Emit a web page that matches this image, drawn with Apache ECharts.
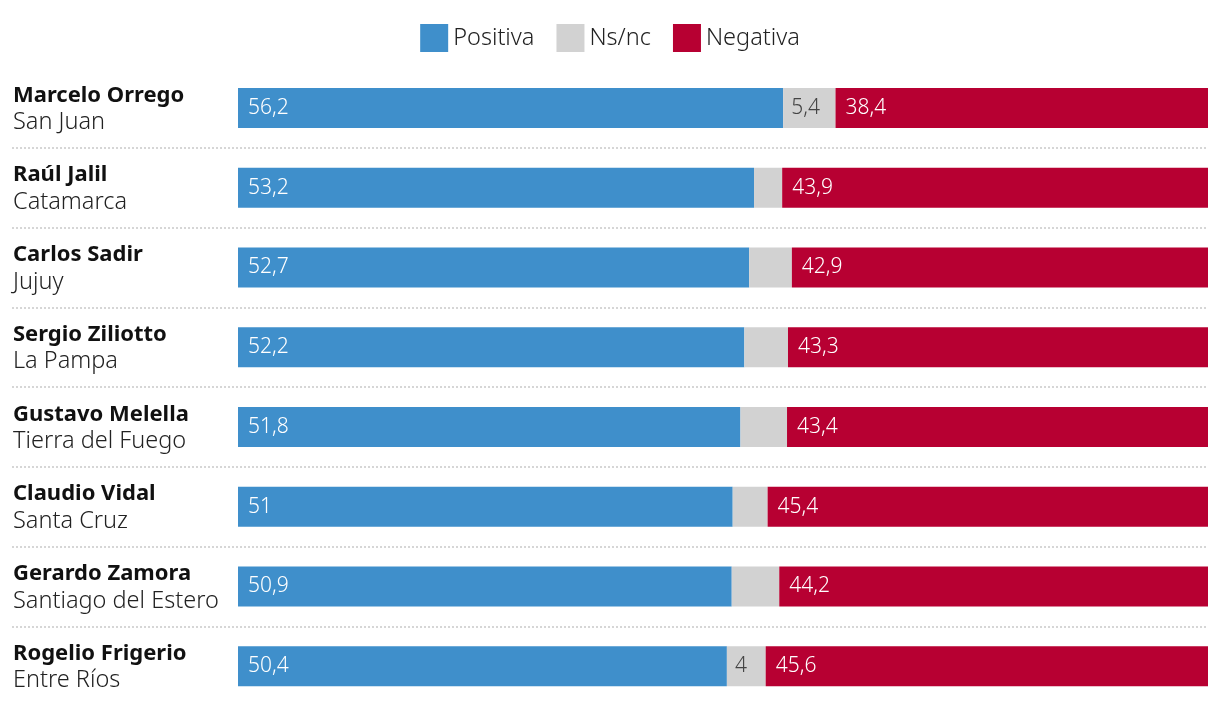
<!DOCTYPE html>
<html>
<head>
<meta charset="utf-8">
<script src="https://cdn.jsdelivr.net/npm/echarts@6/dist/echarts.min.js"></script>
<style>
html,body{margin:0;padding:0;background:#fff;}
#chart{width:1220px;height:714px;}
</style>
</head>
<body>
<div id="chart"></div>
<script>
const names = ['Marcelo Orrego','Raúl Jalil','Carlos Sadir','Sergio Ziliotto','Gustavo Melella','Claudio Vidal','Gerardo Zamora','Rogelio Frigerio'];
const provinces = ['San Juan','Catamarca','Jujuy','La Pampa','Tierra del Fuego','Santa Cruz','Santiago del Estero','Entre Ríos'];
const positiva = [56.2, 53.2, 52.7, 52.2, 51.8, 51, 50.9, 50.4];
const nsnc = [5.4, 2.9, 4.4, 4.5, 4.8, 3.6, 4.9, 4];
const negativa = [38.4, 43.9, 42.9, 43.3, 43.4, 45.4, 44.2, 45.6];
const nsLabelRows = [0, 7];

const categories = names.map((n, i) => n + '|' + provinces[i]);
const fmt = v => String(v).replace('.', ',');
const FONT = '"Noto Sans", Roboto, sans-serif';

const chart = echarts.init(document.getElementById('chart'), null, {renderer: 'canvas'});
const labelBase = {
  show: true, position: 'insideLeft', distance: 10,
  fontFamily: FONT, fontSize: 21, fontWeight: 300, color: '#fff',
  formatter: p => fmt(p.value)
};
const option = {
  animation: false,
  legend: {
    top: 19, left: 'center',
    itemWidth: 28, itemHeight: 28, itemGap: 22,
    icon: 'rect',
    textStyle: {fontFamily: FONT, fontSize: 23.5, fontWeight: 300, color: '#222', padding: [4, 0, 0, 0]},
    data: ['Positiva', 'Ns/nc', 'Negativa']
  },
  grid: {left: 12, right: 12, top: 68, bottom: 8, containLabel: false},
  xAxis: {
    type: 'value', min: -23.3, max: 100,
    show: false
  },
  yAxis: {
    type: 'category', inverse: true, data: categories,
    axisLine: {show: false, onZero: false},
    axisTick: {show: false},
    splitLine: {
      show: true, showMinLine: false, showMaxLine: false,
      lineStyle: {color: '#d6d6d6', width: 2, type: [2, 2]}
    },
    axisLabel: {
      inside: true, margin: 1, align: 'left', padding: [2, 0, 0, 0],
      formatter: v => { const [n, p] = v.split('|'); return '{n|' + n + '}\n{p|' + p + '}'; },
      rich: {
        n: {fontFamily: FONT, fontSize: 22, fontWeight: 'bold', color: '#111', lineHeight: 27},
        p: {fontFamily: FONT, fontSize: 23.5, fontWeight: 300, color: '#222', lineHeight: 27}
      }
    }
  },
  series: [
    {name: 'Positiva', type: 'bar', stack: 't', barWidth: 40, data: positiva,
     itemStyle: {color: '#3f8fcb'}, label: labelBase},
    {name: 'Ns/nc', type: 'bar', stack: 't', barWidth: 40,
     data: nsnc.map((v, i) => ({value: v, label: {show: nsLabelRows.includes(i)}})),
     itemStyle: {color: '#d2d2d2'}, label: Object.assign({}, labelBase, {color: '#444', distance: 8})},
    {name: 'Negativa', type: 'bar', stack: 't', barWidth: 40, data: negativa,
     itemStyle: {color: '#b70032'}, label: labelBase}
  ]
};
chart.setOption(option);
</script>
</body>
</html>
